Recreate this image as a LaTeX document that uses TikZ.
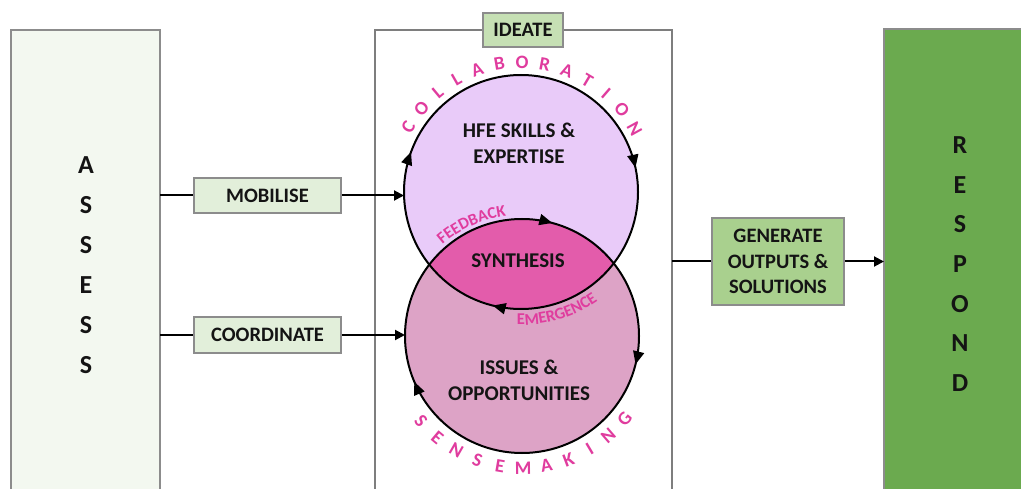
\documentclass[tikz,border=0pt]{standalone}
\usepackage{fontspec}
\setmainfont{Carlito}
\usetikzlibrary{arrows.meta,decorations.markings,decorations.text,calc}
\definecolor{pinktext}{HTML}{E03C9E}
\definecolor{boxgray}{HTML}{8C8C8C}
\definecolor{assessfill}{HTML}{F3F8F0}
\definecolor{tagfill}{HTML}{E2EFDA}
\definecolor{ideatefill}{HTML}{C6E0B4}
\definecolor{genfill}{HTML}{A9D08E}
\definecolor{respondfill}{HTML}{6BAA4F}
\definecolor{topfill}{HTML}{E9CBF9}
\definecolor{botfill}{HTML}{DDA3C6}
\definecolor{lensfill}{HTML}{E35CAB}
\definecolor{inkblack}{HTML}{141414}
\newcommand\arctextfont{\fontsize{16.5}{16.5}\selectfont\bfseries\color{pinktext}}
\begin{document}
\begin{tikzpicture}[x=1pt,y=1pt,
  bigbox/.style={draw=boxgray, line width=1.5pt, inner sep=0pt, outer sep=0pt},
  tagbox/.style={draw=boxgray, line width=1.5pt, inner sep=0pt, align=center,
    text=inkblack, font=\fontsize{20.5}{25.5}\selectfont\bfseries},
  bigletters/.style={align=center, text=inkblack, inner sep=0pt,
    font=\fontsize{26}{40}\selectfont\bfseries},
  mainlbl/.style={align=center, text=inkblack, inner sep=0pt,
    font=\fontsize{21}{26}\selectfont\bfseries},
  ringletter/.style={text=pinktext, inner sep=0pt, font=\fontsize{19}{19}\selectfont\bfseries},
  disc/.style={circle, minimum size=234pt, inner sep=0pt, outer sep=0pt},
  ring/.style={line width=2pt, black},
  conn/.style={line width=2pt, black},
  connarrow/.style={conn, -{Triangle[length=10pt,width=10pt]}},
  cyc/.tip={Triangle[length=13pt,width=11pt]}
]
\clip (0,0) rectangle (1021,488);
\fill[white] (0,0) rectangle (1021,488);

% big columns
\node[bigbox, fill=assessfill, minimum width=149pt, minimum height=480pt] (assess) at (85.5,218) {};
\node[bigbox, draw=boxgray!90!black, line width=2pt, fill=white, minimum width=297pt, minimum height=480pt] (ideatebox) at (523.5,218) {};
\node[bigbox, fill=respondfill, minimum width=156pt, minimum height=480pt] (respond) at (962,219) {};

\node[bigletters] (assesstxt) at (86,223) {A\\S\\S\\E\\S\\S};
\node[bigletters, font=\fontsize{26}{39.7}\selectfont\bfseries] (respondtxt) at (960,224) {R\\E\\S\\P\\O\\N\\D};

% IDEATE tag
\node[tagbox, fill=ideatefill, minimum width=80pt, minimum height=34pt] (ideate) at (523,458) {IDEATE};

% circles
\node[disc, fill=topfill] (topc) at (521,296) {};
\node[disc, fill=botfill] (botc) at (522,152) {};
\begin{scope}
  \clip (topc.center) circle (117);
  \fill[lensfill] (botc.center) circle (117);
\end{scope}
\draw[ring, postaction={decorate}, decoration={markings,
    mark=at position 0.0556 with {\arrow{cyc}},
    mark=at position 0.4667 with {\arrow{cyc}},
    mark=at position 0.7889 with {\arrow{cyc}}}]
  (topc.center) ++(180:117) arc[start angle=180, end angle=-180, radius=117];
\draw[ring, postaction={decorate}, decoration={markings,
    mark=at position 0.2917 with {\arrow{cyc}},
    mark=at position 0.5389 with {\arrow{cyc}},
    mark=at position 0.9361 with {\arrow{cyc}}}]
  (botc.center) ++(180:117) arc[start angle=180, end angle=-180, radius=117];

% circle labels
\node[mainlbl] (hfe) at (519,345) {HFE SKILLS \&\\EXPERTISE};
\node[mainlbl] (syn) at (518,227) {SYNTHESIS};
\node[mainlbl] (iss) at (519,108) {ISSUES \&\\OPPORTUNITIES};

% arc words
\foreach \l [count=\i from 0] in {C,O,L,L,A,B,O,R,A,T,I,O,N} {
  \pgfmathsetmacro\ang{150-\i*10.08}
  \pgfmathsetmacro\rot{\ang-90}
  \node[ringletter, rotate=\rot] (col\i) at ([shift={(\ang:130)}]topc.center) {\l};
}
\foreach \l [count=\i from 0] in {S,E,N,S,E,M,A,K,I,N,G} {
  \pgfmathsetmacro\ang{220+\i*10.1}
  \pgfmathsetmacro\rot{\ang-270}
  \node[ringletter, rotate=\rot] (sen\i) at ([shift={(\ang:132)}]botc.center) {\l};
}
\path[decorate, decoration={text along path, text align=center,
    text={|\arctextfont|FEEDBACK}}]
  (botc.center) ++(140:121) arc[start angle=140, end angle=88.5, radius=121];
\path[decorate, decoration={text along path, text align=center,
    text={|\arctextfont|EMERGENCE}}]
  (topc.center) ++(262:133) arc[start angle=262, end angle=311.6, radius=133];

% tags and connectors
\node[tagbox, fill=tagfill, minimum width=147pt, minimum height=35pt] (mob) at (267.5,292.5) {MOBILISE};
\node[tagbox, fill=tagfill, minimum width=147pt, minimum height=36pt] (coord) at (267.5,153) {COORDINATE};
\node[tagbox, fill=genfill, minimum width=132pt, minimum height=87pt] (gen) at (778,226.5) {GENERATE\\OUTPUTS \&\\SOLUTIONS};

\draw[conn] (assess.east |- mob.west) -- (mob.west);
\draw[connarrow] (mob.east) -- (mob.east -| topc.west);
\draw[conn] (assess.east |- coord.west) -- (coord.west);
\draw[connarrow] (coord.east) -- (coord.east -| botc.west);
\draw[conn] (ideatebox.east |- gen.west) -- (gen.west);
\draw[connarrow] (gen.east) -- (gen.east -| respond.west);
\end{tikzpicture}
\end{document}
